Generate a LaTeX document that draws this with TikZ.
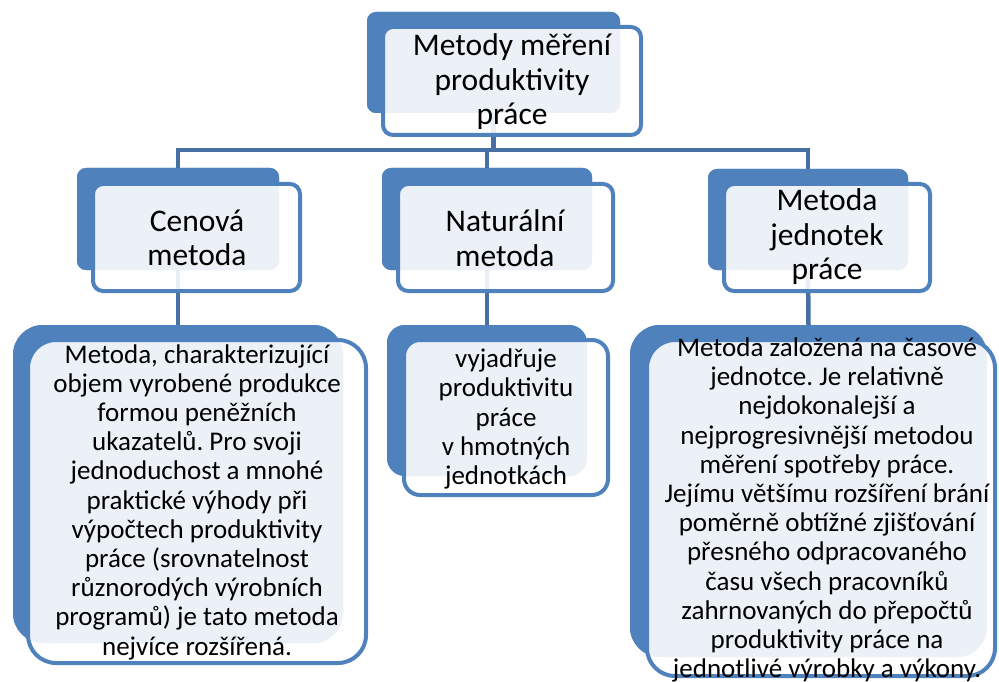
\documentclass[tikz,border=0pt]{standalone}
\usepackage{fontspec}
\setmainfont{Carlito}
\definecolor{acc}{HTML}{4F81BD}
\definecolor{connc}{HTML}{466FA3}
\frenchspacing
\begin{document}
\begin{tikzpicture}[x=1pt,y=-1pt,
  bk/.style={rectangle, fill=acc, draw=none, rounded corners=#1, inner sep=0pt, outer sep=0pt},
  fr/.style={rectangle, fill=white, fill opacity=0.89, draw=acc, draw opacity=1, line width=4pt, rounded corners=#1, inner sep=0pt, outer sep=0pt},
  conn/.style={draw=connc, line width=4.5pt},
  big/.style={align=center, text=black, inner sep=0pt, font=\fontsize{31.5}{34.5}\selectfont},
  small/.style={align=center, text=black, inner sep=0pt, font=\fontsize{27}{29.2}\selectfont}]
\useasboundingbox (0,0) rectangle (999,682);

% back boxes
\node[bk=9, minimum width=253pt, minimum height=101pt] (t0b) at (493.5,62.5) {};
\node[bk=9, minimum width=202pt, minimum height=102pt] (c1b) at (178,219) {};
\node[bk=9, minimum width=210pt, minimum height=102pt] (c2b) at (487,219) {};
\node[bk=9, minimum width=200pt, minimum height=101pt] (c3b) at (808,219.5) {};
\node[bk=30, minimum width=330pt, minimum height=318pt] (d1b) at (178,484) {};
\node[bk=18, minimum width=200pt, minimum height=151pt] (d2b) at (487,400.5) {};
\node[bk=30, minimum width=357pt, minimum height=332pt] (d3b) at (808.5,491) {};
\coordinate (bus) at (487,150);

% connectors
\draw[conn] (t0b.south) -- (t0b.south |- bus);
\draw[conn] (c1b.north) |- (bus) -| (c3b.north);
\draw[conn] (c2b.north) -- (c2b.north |- bus);
\draw[conn] (c1b.south) -- (d1b.north);
\draw[conn] (c2b.south) -- (d2b.north);
\draw[conn] (c3b.south) -- (d3b.north);

% redraw back boxes above connectors
\node[bk=9, minimum width=253pt, minimum height=101pt] at (t0b) {};
\node[bk=9, minimum width=202pt, minimum height=102pt] at (c1b) {};
\node[bk=9, minimum width=210pt, minimum height=102pt] at (c2b) {};
\node[bk=9, minimum width=200pt, minimum height=101pt] at (c3b) {};
\node[bk=30, minimum width=330pt, minimum height=318pt] at (d1b) {};
\node[bk=18, minimum width=200pt, minimum height=151pt] at (d2b) {};
\node[bk=30, minimum width=357pt, minimum height=332pt] at (d3b) {};

% front boxes
\node[fr=10, minimum width=258pt, minimum height=108pt] (t0f) at (512,81) {};
\node[fr=10, minimum width=207pt, minimum height=107pt] (c1f) at (196.5,237.5) {};
\node[fr=10, minimum width=215pt, minimum height=107pt] (c2f) at (505.5,237.5) {};
\node[fr=10, minimum width=206pt, minimum height=107pt] (c3f) at (827,237.5) {};
\node[fr=28, minimum width=338pt, minimum height=323pt] (d1f) at (197,501.5) {};
\node[fr=16, minimum width=204pt, minimum height=155pt] (d2f) at (506,417.5) {};
\node[fr=28, minimum width=348pt, minimum height=336pt] (d3f) at (821,508) {};

% texts
\node[big] (t0t) at (512,82) {Metody měření\\produktivity\\práce};
\node[big] (c1t) at (197,238) {Cenová\\metoda};
\node[big] (c2t) at (505,238) {Naturální\\metoda};
\node[big] (c3t) at (827,237) {Metoda\\jednotek\\práce};
\node[small] (d1t) at (197,502) {Metoda, charakterizující\\objem vyrobené produkce\\formou peněžních\\ukazatelů. Pro svoji\\jednoduchost a mnohé\\praktické výhody při\\výpočtech produktivity\\práce (srovnatelnost\\různorodých výrobních\\programů) je tato metoda\\nejvíce rozšířená.};
\node[small] (d2t) at (506,419) {vyjadřuje\\produktivitu\\práce\\v hmotných\\jednotkách};
\node[small] (d3t) at (827,510) {Metoda založená na časové\\jednotce. Je relativně\\nejdokonalejší a\\nejprogresivnější metodou\\měření spotřeby práce.\\Jejímu většímu rozšíření brání\\poměrně obtížné zjišťování\\přesného odpracovaného\\času všech pracovníků\\zahrnovaných do přepočtů\\produktivity práce na\\jednotlivé výrobky a výkony.};
\end{tikzpicture}
\end{document}
